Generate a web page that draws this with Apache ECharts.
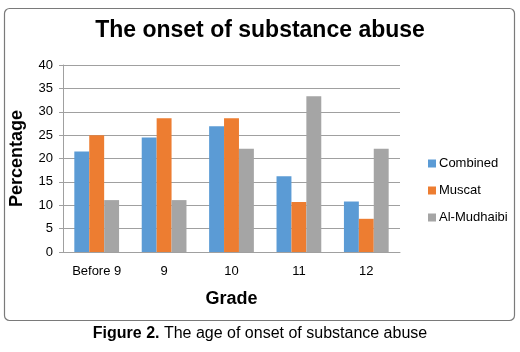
<!DOCTYPE html>
<html><head><meta charset="utf-8">
<script src="https://cdn.jsdelivr.net/npm/echarts@6/dist/echarts.min.js"></script>
<style>html,body{margin:0;padding:0;background:#fff}#c{width:520px;height:352px}</style>
</head><body><div id="c"></div>
<script>
const categories = ['Before 9', '9', '10', '11', '12'];
const combined = [21.5, 24.5, 26.9, 16.2, 10.8];
const muscat = [25.0, 28.6, 28.6, 10.7, 7.1];
const alMudhaibi = [11.1, 11.1, 22.1, 33.3, 22.1];
const seriesNames = ['Combined', 'Muscat', 'Al-Mudhaibi'];
const yTicks = [0, 5, 10, 15, 20, 25, 30, 35, 40];

const FONT = '"Liberation Sans", Arial, sans-serif';
const chart = echarts.init(document.getElementById('c'), null, {renderer: 'canvas'});
const colors = ['#5B9BD5', '#ED7D31', '#A5A5A5'];
chart.setOption({
  animation: false,
  textStyle: {fontFamily: FONT},
  graphic: [
    {type: 'rect', shape: {x: 4.5, y: 8.5, width: 510, height: 312, r: 5}, style: {fill: 'none', stroke: '#7a7a7a', lineWidth: 1.2}, z: -1},
    {type: 'text', left: 'center', top: 19, style: {text: 'The onset of substance abuse', font: 'bold 23px ' + FONT, fill: '#000'}},
    {type: 'text', left: 'center', top: 326, style: {text: '{b|Figure 2.} The age of onset of substance abuse', font: '16px ' + FONT, fill: '#000', rich: {b: {fontWeight: 'bold', fontSize: 16, fontFamily: FONT}}}}
  ],
  grid: {left: 61, right: 120, top: 65, bottom: 100, containLabel: false},
  legend: {
    orient: 'vertical', left: 423, top: 152, itemWidth: 8, itemHeight: 8, itemGap: 14,
    icon: 'rect', textStyle: {fontSize: 13, color: '#000', fontFamily: FONT, padding: [0, 0, 0, -2]},
    data: seriesNames
  },
  xAxis: {
    type: 'category', data: categories,
    name: 'Grade', nameLocation: 'middle', nameGap: 38,
    nameTextStyle: {fontSize: 18, fontWeight: 'bold', color: '#000', fontFamily: FONT},
    axisLine: {lineStyle: {color: '#a0a0a0'}}, axisTick: {show: false},
    axisLabel: {fontSize: 13, color: '#000', margin: 13}
  },
  yAxis: {
    type: 'value', min: 0, max: 40, interval: 5,
    name: 'Percentage', nameLocation: 'middle', nameGap: 37,
    nameTextStyle: {fontSize: 18, fontWeight: 'bold', color: '#000', fontFamily: FONT},
    axisLine: {show: true, lineStyle: {color: '#a0a0a0'}},
    axisTick: {show: true, length: 4, lineStyle: {color: '#a0a0a0'}},
    axisLabel: {fontSize: 13, color: '#000', margin: 10, formatter: v => yTicks.includes(v) ? String(v) : ''},
    splitLine: {lineStyle: {color: '#a0a0a0'}}
  },
  series: [
    {name: seriesNames[0], type: 'bar', data: combined, itemStyle: {color: colors[0]}, barGap: '0%', barCategoryGap: '33.6%'},
    {name: seriesNames[1], type: 'bar', data: muscat, itemStyle: {color: colors[1]}, barGap: '0%', barCategoryGap: '33.6%'},
    {name: seriesNames[2], type: 'bar', data: alMudhaibi, itemStyle: {color: colors[2]}, barGap: '0%', barCategoryGap: '33.6%'}
  ]
});
</script></body></html>
